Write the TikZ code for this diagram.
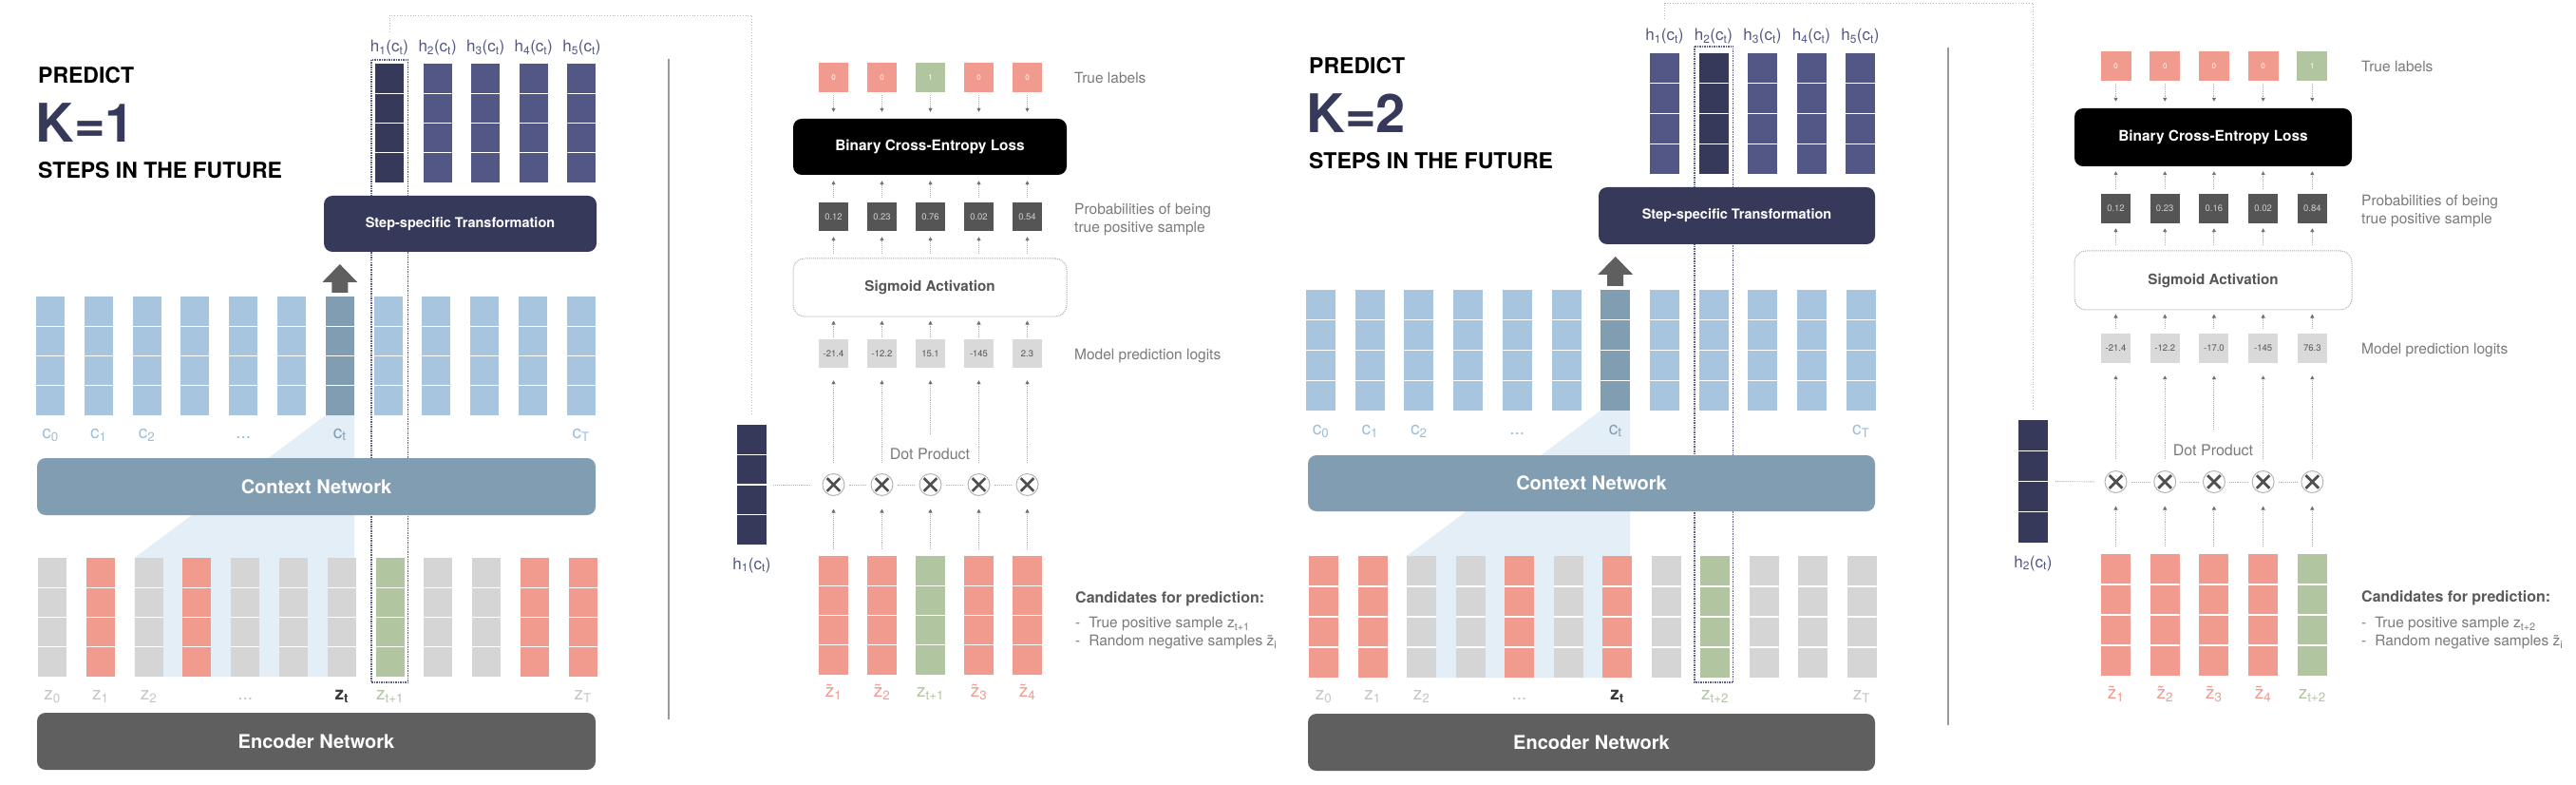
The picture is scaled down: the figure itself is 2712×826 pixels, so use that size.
\documentclass[tikz,border=0pt]{standalone}
\usepackage{fontspec}
\setmainfont{TeX Gyre Heros}
\usetikzlibrary{calc,arrows.meta,backgrounds}
\definecolor{navyD}{HTML}{363959}
\definecolor{navyM}{HTML}{525785}
\definecolor{lblue}{HTML}{A7C5DF}
\definecolor{cdark}{HTML}{819DB2}
\definecolor{shadeb}{HTML}{E3EEF7}
\definecolor{zgray}{HTML}{D5D5D5}
\definecolor{zred}{HTML}{F19A8E}
\definecolor{zgreen}{HTML}{B1C5A1}
\definecolor{encg}{HTML}{5F5F5F}
\definecolor{probg}{HTML}{555555}
\definecolor{probtxt}{HTML}{CFCFCF}
\definecolor{logitg}{HTML}{D9D9D9}
\definecolor{logittxt}{HTML}{555555}
\definecolor{sidetext}{HTML}{7A7A7A}
\definecolor{candtext}{HTML}{5A5A5A}
\definecolor{clab}{HTML}{9DBEDB}
\definecolor{zlab}{HTML}{C5C5C5}
\definecolor{ztdark}{HTML}{3A3A3A}
\definecolor{arrowline}{HTML}{B0B0B0}
\definecolor{tipcol}{HTML}{707070}
\definecolor{lconncol}{HTML}{B8B8B8}
\definecolor{rectcol}{HTML}{5A5E82}
\definecolor{sepcol}{HTML}{9A9A9A}
\definecolor{sigborder}{HTML}{ABABAB}
\definecolor{sigtext}{HTML}{555555}
\definecolor{circcol}{HTML}{B5B5B5}
\definecolor{crosscol}{HTML}{505050}
\newcommand\myfs[1]{\fontsize{#1}{#1}\selectfont}
\begin{document}
\begin{tikzpicture}[x=1pt,y=-1pt,
  vcol/.style={rectangle, inner sep=0pt, outer sep=0pt, anchor=north west,
    minimum width=30pt, minimum height=125pt,
    path picture={\foreach \k in {1,2,3}{\draw[white, line width=1.3pt]
      ($(path picture bounding box.north west)!\k/4!(path picture bounding box.south west)$) --
      ($(path picture bounding box.north east)!\k/4!(path picture bounding box.south east)$);}}},
  bigbox/.style={rectangle, rounded corners=9pt, inner sep=0pt, text=white, font=\bfseries\myfs{20}},
  sq/.style={rectangle, inner sep=0pt, minimum width=31pt, minimum height=31pt},
  arr/.style={draw=arrowline, densely dotted, line width=0.9pt, -{Triangle[length=4pt,width=4pt,color=tipcol]}},
  conn/.style={draw=arrowline, densely dotted, line width=0.9pt},
  lconn/.style={draw=lconncol, dotted, line width=0.8pt},
  drect/.style={draw=rectcol, densely dotted, line width=1.5pt},
  lbl/.style={anchor=base, inner sep=0pt},
  side/.style={anchor=base west, inner sep=0pt, text=sidetext, font=\myfs{15.5}},
  ttl/.style={anchor=base west, inner sep=0pt, font=\bfseries\myfs{23}},
  otimes/.style={circle, draw=circcol, line width=1pt, minimum size=23pt, inner sep=0pt},
  xcross/.style={draw=crosscol, line width=2.8pt},
  sigbox/.style={rectangle, rounded corners=12pt, draw=sigborder, densely dotted, line width=1pt, text=sigtext, font=\bfseries\myfs{15.2}},
]
\useasboundingbox (0,0) rectangle (2712,826);

%%%%%%%%%%%%%%%%%%%%%%%% PANEL 1 %%%%%%%%%%%%%%%%%%%%%%%%
\node[ttl] (p1pred) at (40,88) {PREDICT};
\node[anchor=base west, inner sep=0pt, font=\bfseries\myfs{56}, text=navyD] (p1k) at (37.5,150) {K=1};
\node[ttl] (p1steps) at (40,188) {STEPS IN THE FUTURE};

\foreach \i/\cc in {1/navyD,2/navyM,3/navyM,4/navyM,5/navyM}{
  \pgfmathsetmacro\xx{395+50.6*(\i-1)}
  \node[vcol, fill=\cc] (p1h\i) at (\xx,67) {};
  \node[lbl, font=\myfs{17}, text=navyM] (p1hl\i) at ($(p1h\i.north)+(0,-12)$) {h\textsubscript{\i}(c\textsubscript{t})};
}
\node[bigbox, fill=navyD, minimum width=287pt, minimum height=59pt, font=\bfseries\myfs{14.5}] (p1step) at (484.5,235.5) {Step-specific Transformation};

\foreach \i/\cc in {0/lblue,1/lblue,2/lblue,3/lblue,4/lblue,5/lblue,6/cdark,7/lblue,8/lblue,9/lblue,10/lblue,11/lblue}{
  \pgfmathsetmacro\xx{38+50.8*\i}
  \node[vcol, fill=\cc] (p1c\i) at (\xx,312) {};
}
\foreach \i/\t/\cc in {0/{c\textsubscript{0}}/clab,1/{c\textsubscript{1}}/clab,2/{c\textsubscript{2}}/clab,6/{c\textsubscript{t}}/cdark,11/{c\textsubscript{T}}/clab}
  \node[lbl, font=\myfs{19}, text=\cc] (p1cl\i) at ($(p1c\i.south)+(0,24)$) {\t};
\node[lbl, font=\myfs{19}, text=clab] (p1cl4) at ($(p1c4.south)+(0,24)$) {...};

\fill[encg] ($(p1c6.north)+(-8.5,-4)$) -- ++(0,-11) -- ++(-10,0) -- ++(18.5,-19) -- ++(18.5,19) -- ++(-10,0) -- ++(0,11) -- cycle;

\node[bigbox, fill=cdark, minimum width=588pt, minimum height=60pt] (p1ctx) at (333,512) {Context Network};

\foreach \i/\cc in {0/zgray,1/zred,2/zgray,3/zred,4/zgray,5/zgray,6/zgray,7/zgreen,8/zgray,9/zgray,10/zred,11/zred}{
  \pgfmathsetmacro\xx{40+50.8*\i}
  \node[vcol, fill=\cc] (p1z\i) at (\xx,587) {};
}
\foreach \i/\t/\cc in {0/{z\textsubscript{0}}/zlab,1/{z\textsubscript{1}}/zlab,2/{z\textsubscript{2}}/zlab,7/{z\textsubscript{t+1}}/zgreen,11/{z\textsubscript{T}}/zlab}
  \node[lbl, font=\myfs{19}, text=\cc] (p1zl\i) at ($(p1z\i.south)+(0,24)$) {\t};
\node[lbl, font=\myfs{19}, text=zlab] (p1zl4) at ($(p1z4.south)+(0,24)$) {...};
\node[lbl, font=\bfseries\myfs{19}, text=ztdark] (p1zl6) at ($(p1z6.south)+(0,24)$) {z\textsubscript{t}};

\node[bigbox, fill=encg, minimum width=588pt, minimum height=60pt] (p1enc) at (333,780) {Encoder Network};

\draw[sepcol, line width=1.3pt] (704,62) -- (704,757);

% right part, panel 1
\node[vcol, fill=navyD, minimum width=31pt, minimum height=126pt] (p1hs) at (776,447) {};
\node[lbl, font=\myfs{17}, text=navyM] (p1hsl) at ($(p1hs.south)+(0,26)$) {h\textsubscript{1}(c\textsubscript{t})};

\node[rectangle, rounded corners=9pt, fill=black, inner sep=0pt, text=white, minimum width=288pt, minimum height=59pt, font=\bfseries\myfs{15.4}] (p1bce) at (979,154.5) {Binary Cross-Entropy Loss};
\node[sigbox, minimum width=288pt, minimum height=61pt] (p1sig) at (979,302.5) {Sigmoid Activation};

\foreach \i/\lv/\lc/\pv/\gv/\cc/\zt in {
  1/0/zred/0.12/-21.4/zred/{\~{z}\textsubscript{1}},
  2/0/zred/0.23/-12.2/zred/{\~{z}\textsubscript{2}},
  3/1/zgreen/0.76/15.1/zgreen/{z\textsubscript{t+1}},
  4/0/zred/0.02/-145/zred/{\~{z}\textsubscript{3}},
  5/0/zred/0.54/2.3/zred/{\~{z}\textsubscript{4}}}{
  \pgfmathsetmacro\xx{877.5+51*(\i-1)}
  \node[sq, fill=\lc, text=white, font=\myfs{8}] (p1lab\i) at (\xx,81.5) {\lv};
  \node[sq, fill=probg, text=probtxt, font=\myfs{9.5}, minimum height=30pt] (p1prob\i) at (\xx,228) {\pv};
  \node[sq, fill=logitg, text=logittxt, font=\myfs{9.5}, minimum height=30pt] (p1log\i) at (\xx,372) {\gv};
  \node[otimes] (p1x\i) at (\xx,510) {};
  \draw[xcross] (p1x\i.center) +(-6.8,-6.8) -- +(6.8,6.8) +(-6.8,6.8) -- +(6.8,-6.8);
  \node[vcol, fill=\cc, minimum width=31pt, anchor=north] (p1cand\i) at (\xx,585) {};
  \node[lbl, font=\myfs{19}, text=\cc] (p1kl\i) at ($(p1cand\i.south)+(0,23)$) {\zt};
}
\foreach \i in {1,...,5}{
  \draw[arr, shorten <=3pt, shorten >=7pt] (p1lab\i.south) -- (p1lab\i.south |- p1bce.north);
  \draw[arr, shorten <=5pt, shorten >=6pt] (p1prob\i.north) -- (p1prob\i.north |- p1bce.south);
  \draw[arr, shorten <=5pt, shorten >=6pt] (p1prob\i.south |- p1sig.north) -- (p1prob\i.south);
  \draw[arr, shorten <=2pt, shorten >=4pt] (p1log\i.north) -- (p1log\i.north |- p1sig.south);
  \draw[arr, shorten <=7pt, shorten >=13.5pt] (p1cand\i.north) -- (p1x\i.south);
}
\foreach \i in {1,2,4,5}
  \draw[arr, shorten <=11.5pt, shorten >=13pt] (p1x\i.north) -- (p1log\i.south);
\draw[arr, shorten <=41.5pt, shorten >=13pt] (p1x3.north) -- (p1log3.south);
\foreach \i/\j in {1/2,2/3,3/4,4/5}
  \draw[conn, shorten <=4pt, shorten >=4pt] (p1x\i) -- (p1x\j);
\draw[conn, shorten <=7pt, shorten >=12pt] (p1hs.east) -- (p1x1.west);
\node[lbl, font=\myfs{16}, text=sidetext] (p1dot) at (979,483) {Dot Product};

\coordinate (p1top) at (600,16);
\draw[lconn, shorten <=9pt, shorten >=12pt] (p1hl1.north) |- (p1top) -| (p1hs.north);

\node[side] (p1t1) at (1131,87.5) {True labels};
\node[side] (p1t2) at (1131,225.5) {Probabilities of being};
\node[side] (p1t3) at (1131,244.5) {true positive sample};
\node[side] (p1t4) at (1131,378.5) {Model prediction logits};
\node[side, font=\bfseries\myfs{16}, text=candtext] (p1t5) at (1132,634) {Candidates for prediction:};
\node[side] (p1t6) at (1132,660.5) {-\hspace{9pt}True positive sample z\textsubscript{t+1}};
\node[side] (p1t7) at (1132,679.5) {-\hspace{9pt}Random negative samples \~{z}\textsubscript{i}};

%%%%%%%%%%%%%%%%%%%%%%%% PANEL 2 %%%%%%%%%%%%%%%%%%%%%%%%
\node[ttl] (p2pred) at (1378,78) {PREDICT};
\node[anchor=base west, inner sep=0pt, font=\bfseries\myfs{56}, text=navyD] (p2k) at (1375.5,140) {K=2};
\node[ttl] (p2steps) at (1378,178) {STEPS IN THE FUTURE};

\foreach \i/\cc in {1/navyM,2/navyD,3/navyM,4/navyM,5/navyM}{
  \pgfmathsetmacro\xx{1737+51.5*(\i-1)}
  \node[vcol, fill=\cc, minimum width=31pt, minimum height=127pt] (p2h\i) at (\xx,56) {};
  \node[lbl, font=\myfs{17}, text=navyM] (p2hl\i) at ($(p2h\i.north)+(0,-13)$) {h\textsubscript{\i}(c\textsubscript{t})};
}
\node[bigbox, fill=navyD, minimum width=291pt, minimum height=60pt, font=\bfseries\myfs{14.5}] (p2step) at (1828.5,227) {Step-specific Transformation};

\foreach \i/\cc in {0/lblue,1/lblue,2/lblue,3/lblue,4/lblue,5/lblue,6/cdark,7/lblue,8/lblue,9/lblue,10/lblue,11/lblue}{
  \pgfmathsetmacro\xx{1375+51.7*\i}
  \node[vcol, fill=\cc, minimum width=31pt, minimum height=127pt] (p2c\i) at (\xx,305) {};
}
\foreach \i/\t/\cc in {0/{c\textsubscript{0}}/clab,1/{c\textsubscript{1}}/clab,2/{c\textsubscript{2}}/clab,6/{c\textsubscript{t}}/cdark,11/{c\textsubscript{T}}/clab}
  \node[lbl, font=\myfs{19}, text=\cc] (p2cl\i) at ($(p2c\i.south)+(0,25)$) {\t};
\node[lbl, font=\myfs{19}, text=clab] (p2cl4) at ($(p2c4.south)+(0,25)$) {...};

\fill[encg] ($(p2c6.north)+(-8.5,-4)$) -- ++(0,-12) -- ++(-10,0) -- ++(18.5,-19) -- ++(18.5,19) -- ++(-10,0) -- ++(0,12) -- cycle;

\node[bigbox, fill=cdark, minimum width=597pt, minimum height=59pt] (p2ctx) at (1675.5,508.5) {Context Network};

\foreach \i/\cc in {0/zred,1/zred,2/zgray,3/zgray,4/zred,5/zgray,6/zred,7/zgray,8/zgreen,9/zgray,10/zgray,11/zgray}{
  \pgfmathsetmacro\xx{1378+51.5*\i}
  \node[vcol, fill=\cc, minimum width=31pt, minimum height=128pt] (p2z\i) at (\xx,585) {};
}
\foreach \i/\t/\cc in {0/{z\textsubscript{0}}/zlab,1/{z\textsubscript{1}}/zlab,2/{z\textsubscript{2}}/zlab,8/{z\textsubscript{t+2}}/zgreen,11/{z\textsubscript{T}}/zlab}
  \node[lbl, font=\myfs{19}, text=\cc] (p2zl\i) at ($(p2z\i.south)+(0,23)$) {\t};
\node[lbl, font=\myfs{19}, text=zlab] (p2zl4) at ($(p2z4.south)+(0,23)$) {...};
\node[lbl, font=\bfseries\myfs{19}, text=ztdark] (p2zl6) at ($(p2z6.south)+(0,23)$) {z\textsubscript{t}};

\node[bigbox, fill=encg, minimum width=597pt, minimum height=60pt] (p2enc) at (1675.5,781) {Encoder Network};

\draw[sepcol, line width=1.3pt] (2051,50) -- (2051,763);

% right part, panel 2
\node[vcol, fill=navyD, minimum width=31pt, minimum height=129pt] (p2hs) at (2125,442) {};
\node[lbl, font=\myfs{17}, text=navyM] (p2hsl) at ($(p2hs.south)+(0,26)$) {h\textsubscript{2}(c\textsubscript{t})};

\node[rectangle, rounded corners=9pt, fill=black, inner sep=0pt, text=white, minimum width=292pt, minimum height=61pt, font=\bfseries\myfs{15.4}] (p2bce) at (2330,144.5) {Binary Cross-Entropy Loss};
\node[sigbox, minimum width=292pt, minimum height=62pt] (p2sig) at (2330,295) {Sigmoid Activation};

\foreach \i/\lv/\lc/\pv/\gv/\cc/\zt in {
  1/0/zred/0.12/-21.4/zred/{\~{z}\textsubscript{1}},
  2/0/zred/0.23/-12.2/zred/{\~{z}\textsubscript{2}},
  3/0/zred/0.16/-17.0/zred/{\~{z}\textsubscript{3}},
  4/0/zred/0.02/-145/zred/{\~{z}\textsubscript{4}},
  5/1/zgreen/0.84/76.3/zgreen/{z\textsubscript{t+2}}}{
  \pgfmathsetmacro\xx{2227.5+51.7*(\i-1)}
  \node[sq, fill=\lc, text=white, font=\myfs{8}, minimum width=32pt] (p2lab\i) at (\xx,69.5) {\lv};
  \node[sq, fill=probg, text=probtxt, font=\myfs{9.5}] (p2prob\i) at (\xx,219.5) {\pv};
  \node[sq, fill=logitg, text=logittxt, font=\myfs{9.5}] (p2log\i) at (\xx,366.5) {\gv};
  \node[otimes] (p2x\i) at (\xx,507) {};
  \draw[xcross] (p2x\i.center) +(-6.8,-6.8) -- +(6.8,6.8) +(-6.8,6.8) -- +(6.8,-6.8);
  \node[vcol, fill=\cc, minimum width=31pt, minimum height=128pt, anchor=north] (p2cand\i) at (\xx,583) {};
  \node[lbl, font=\myfs{19}, text=\cc] (p2kl\i) at ($(p2cand\i.south)+(0,24)$) {\zt};
}
\foreach \i in {1,...,5}{
  \draw[arr, shorten <=3pt, shorten >=7pt] (p2lab\i.south) -- (p2lab\i.south |- p2bce.north);
  \draw[arr, shorten <=5pt, shorten >=5pt] (p2prob\i.north) -- (p2prob\i.north |- p2bce.south);
  \draw[arr, shorten <=6pt, shorten >=5pt] (p2prob\i.south |- p2sig.north) -- (p2prob\i.south);
  \draw[arr, shorten <=5pt, shorten >=4pt] (p2log\i.north) -- (p2log\i.north |- p2sig.south);
  \draw[arr, shorten <=8pt, shorten >=13.5pt] (p2cand\i.north) -- (p2x\i.south);
}
\foreach \i in {1,2,4,5}
  \draw[arr, shorten <=12.5pt, shorten >=13pt] (p2x\i.north) -- (p2log\i.south);
\draw[arr, shorten <=43.5pt, shorten >=13pt] (p2x3.north) -- (p2log3.south);
\foreach \i/\j in {1/2,2/3,3/4,4/5}
  \draw[conn, shorten <=4pt, shorten >=4pt] (p2x\i) -- (p2x\j);
\draw[conn, shorten <=8pt, shorten >=11pt] (p2hs.east) -- (p2x1.west);
\node[lbl, font=\myfs{16}, text=sidetext] (p2dot) at (2330,479) {Dot Product};

\coordinate (p2top) at (1950,3);
\draw[lconn, shorten <=10.5pt, shorten >=10pt] (p2hl1.north) |- (p2top) -| (p2hs.north);

\node[side] (p2t1) at (2486,75.5) {True labels};
\node[side] (p2t2) at (2486,216.5) {Probabilities of being};
\node[side] (p2t3) at (2486,235.5) {true positive sample};
\node[side] (p2t4) at (2486,372.5) {Model prediction logits};
\node[side, font=\bfseries\myfs{16}, text=candtext] (p2t5) at (2486,633) {Candidates for prediction:};
\node[side] (p2t6) at (2486,660.5) {-\hspace{9pt}True positive sample z\textsubscript{t+2}};
\node[side] (p2t7) at (2486,679.5) {-\hspace{9pt}Random negative samples \~{z}\textsubscript{i}};

%%%%%%%%%%%%%%%%%%%%%%%% BACKGROUND %%%%%%%%%%%%%%%%%%%%%%%%
\begin{scope}[on background layer]
  \fill[white] (0,0) rectangle (2712,826);
  \fill[shadeb] (p1c6.south west) -- (p1c6.south east) -- (p1c6.south east |- p1z2.south) -- (p1z2.south west) -- (p1z2.north west) -- cycle;
  \fill[shadeb] (p2c6.south west) -- (p2c6.south east) -- (p2c6.south east |- p2z2.south) -- (p2z2.south west) -- (p2z2.north west) -- cycle;
  \draw[drect] ([xshift=-4pt,yshift=4pt]p1h1.north west) rectangle ([xshift=4pt,yshift=-6pt]p1z7.south east);
  \draw[drect] ([xshift=-4.5pt,yshift=7pt]p2h2.north west) rectangle ([xshift=3.5pt,yshift=-5pt]p2z8.south east);
\end{scope}
\end{tikzpicture}
\end{document}
